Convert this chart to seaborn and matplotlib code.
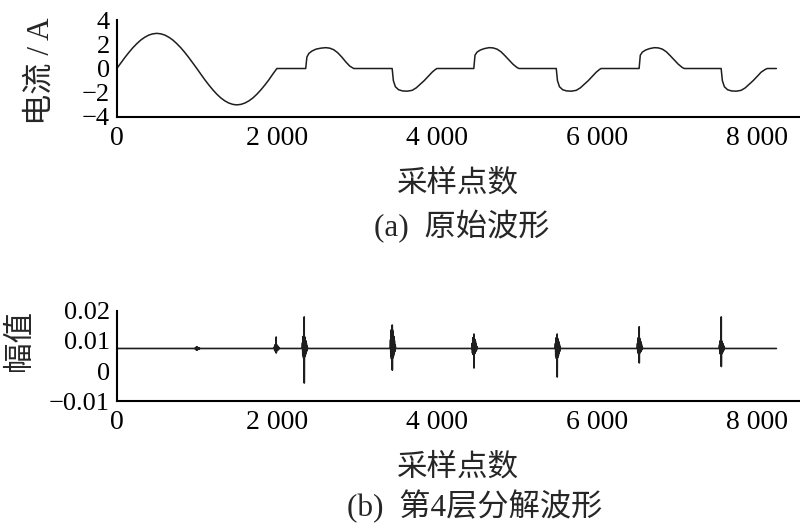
import matplotlib
matplotlib.use("Agg")
import matplotlib.pyplot as plt
import seaborn as sns
import pandas as pd

# ---------------- data ----------------
# (a) original current waveform: sample index / current (A)
wave_x = [0, 50, 100, 150, 200, 250, 300, 350, 400, 450, 500, 550, 600, 650, 700,
          750, 800, 850, 900, 950, 1000, 1050, 1100, 1150, 1200, 1250, 1300, 1350,
          1400, 1450, 1500, 1550, 1600, 1650, 1700, 1750, 1800, 1850, 1900, 1950, 2000,
          2360, 2375, 2400, 2440, 2490, 2550, 2610, 2660, 2710, 2760, 2810, 2860, 2910, 2960,
          3440, 3455, 3480, 3520, 3570, 3630, 3690, 3740, 3790, 3840, 3890, 3940, 3980, 4000,
          4460, 4475, 4500, 4540, 4590, 4650, 4700, 4750, 4800, 4850, 4900, 4950, 5000, 5025,
          5490, 5505, 5530, 5570, 5620, 5680, 5740, 5790, 5840, 5890, 5940, 5990, 6030, 6050,
          6525, 6540, 6565, 6605, 6655, 6715, 6765, 6815, 6865, 6915, 6965, 7015, 7065, 7090,
          7550, 7565, 7590, 7630, 7680, 7740, 7800, 7850, 7900, 7950, 8000, 8050, 8100, 8125,
          8240]
wave_y = [0.0, 0.45, 0.90, 1.32, 1.71, 2.05, 2.35, 2.58, 2.76, 2.86, 2.90, 2.86, 2.76,
          2.58, 2.35, 2.05, 1.71, 1.32, 0.90, 0.45, 0.0, -0.47, -0.93, -1.36, -1.76,
          -2.12, -2.43, -2.67, -2.85, -2.96, -3.00, -2.96, -2.85, -2.67, -2.43, -2.12,
          -1.76, -1.36, -0.93, -0.45, 0.0,
          0.0, 0.95, 1.25, 1.45, 1.60, 1.68, 1.72, 1.68, 1.55, 1.30, 0.95, 0.55, 0.20, 0.0,
          0.0, -1.00, -1.50, -1.75, -1.85, -1.87, -1.80, -1.60, -1.30, -1.00, -0.65, -0.30, -0.08, 0.0,
          0.0, 1.10, 1.35, 1.52, 1.64, 1.72, 1.70, 1.60, 1.38, 1.05, 0.70, 0.35, 0.08, 0.0,
          0.0, -1.00, -1.50, -1.75, -1.85, -1.87, -1.80, -1.60, -1.30, -1.00, -0.65, -0.30, -0.08, 0.0,
          0.0, 1.10, 1.35, 1.52, 1.64, 1.72, 1.70, 1.60, 1.38, 1.05, 0.70, 0.35, 0.08, 0.0,
          0.0, -1.00, -1.50, -1.75, -1.85, -1.87, -1.80, -1.60, -1.30, -1.00, -0.65, -0.30, -0.08, 0.0,
          0.0]

# (b) level-4 decomposition: baseline and bursts
detail_start = 0
detail_end = 8240
detail_base = 0.0075
burst_x = [1000, 1990, 2340, 3440, 4460, 5500, 6525, 7550]
burst_top = [0.0080, 0.0113, 0.0180, 0.0153, 0.0123, 0.0123, 0.0147, 0.0180]
burst_bot = [0.0070, 0.0060, -0.0040, 0.0003, 0.0010, -0.0020, 0.0027, 0.0015]
burst_core_top = [0.0079, 0.0088, 0.0117, 0.0140, 0.0112, 0.0112, 0.0112, 0.0102]
burst_core_bot = [0.0071, 0.0066, 0.0045, 0.0040, 0.0055, 0.0042, 0.0058, 0.0056]
# envelope of each burst (fraction of the core height), left to right
burst_env = [0.45, 0.75, 0.95, 1.0, 1.0, 1.0, 0.95, 0.9, 0.82, 0.72, 0.62, 0.5, 0.4, 0.3, 0.2]

x_ticks = [0, 2000, 4000, 6000, 8000]
x_ticklabels = ["0", "2 000", "4 000", "6 000", "8 000"]
y1_ticks = [-4, -2, 0, 2, 4]
y1_ticklabels = ["\u22124", "\u22122", "0", "2", "4"]
y2_ticks = [-0.01, 0, 0.01, 0.02]
y2_ticklabels = ["\u22120.01", "0", "0.01", "0.02"]

x_label = "采样点数"
y1_label = "电流 / A"
y2_label = "幅值"
cap_a = "(a)  原始波形"
cap_b = "(b)  第4层分解波形"

# ---------------- build detail series ----------------
dx, dy = [detail_start], [detail_base]
for c, t, b, ct, cb in zip(burst_x, burst_top, burst_bot, burst_core_top, burst_core_bot):
    dx.append(c - 25); dy.append(detail_base)
    for i, e in enumerate(burst_env):
        o = -20 + 4 * i
        if i % 2 == 0:
            v = detail_base + (ct - detail_base) * e
        else:
            v = detail_base + (cb - detail_base) * e
        dx.append(c + o); dy.append(v)
        if i == 5:
            dx.append(c + o + 1); dy.append(t)
            dx.append(c + o + 2); dy.append(b)
    dx.append(c + 45); dy.append(detail_base)
dx.append(detail_end); dy.append(detail_base)
df_wave = pd.DataFrame({"x": wave_x, "y": wave_y})
df_det = pd.DataFrame({"x": dx, "y": dy})

# ---------------- style ----------------
sns.set_theme(style="white")
fams = ["Liberation Serif", "Noto Sans CJK SC", "DejaVu Sans"]
plt.rcParams["font.family"] = fams
plt.rcParams["axes.unicode_minus"] = True

fig = plt.figure(figsize=(8, 5.27), dpi=100)
ax1 = fig.add_axes([0.146, 0.778, 0.853, 0.184])
ax2 = fig.add_axes([0.146, 0.239, 0.853, 0.171])

line_col = "#1e1e1e"
sns.lineplot(data=df_wave, x="x", y="y", ax=ax1, color=line_col, linewidth=1.1,
             sort=False, estimator=None)
sns.lineplot(data=df_det, x="x", y="y", ax=ax2, color=line_col, linewidth=1.2,
             sort=False, estimator=None)

for ax, yt, ytl, ylim in [(ax1, y1_ticks, y1_ticklabels, (-4, 4)),
                          (ax2, y2_ticks, y2_ticklabels, (-0.01, 0.02))]:
    ax.set_xlim(0, 8525)
    ax.set_ylim(*ylim)
    ax.set_xticks(x_ticks)
    ax.set_xticklabels(x_ticklabels, fontsize=20)
    ax.set_yticks(yt)
    ax.set_yticklabels(ytl, fontsize=19)
    for s in ["top", "right"]:
        ax.spines[s].set_visible(False)
    for s in ["left", "bottom"]:
        ax.spines[s].set_color("black")
        ax.spines[s].set_linewidth(1.5)
    ax.tick_params(axis="x", direction="in", length=7, width=1.3, pad=6.5, colors="black")
    ax.tick_params(axis="y", direction="in", length=5, width=1.3, pad=5, colors="black")
    ax.set_xlabel(x_label, fontsize=22, labelpad=13)
    ax.grid(False)

ax1.set_ylabel(y1_label, fontsize=22.5)
ax1.yaxis.set_label_coords(-0.09, 0.47)
ax2.set_ylabel(y2_label, fontsize=22)
ax2.yaxis.set_label_coords(-0.12, 0.667)

fig.text(0.577, 1 - 227 / 527, cap_a, ha="center", va="center", fontsize=22.5)
fig.text(0.593, 1 - 506 / 527, cap_b, ha="center", va="center", fontsize=22.5)

fig.savefig("out.png", dpi=100, facecolor="white")
